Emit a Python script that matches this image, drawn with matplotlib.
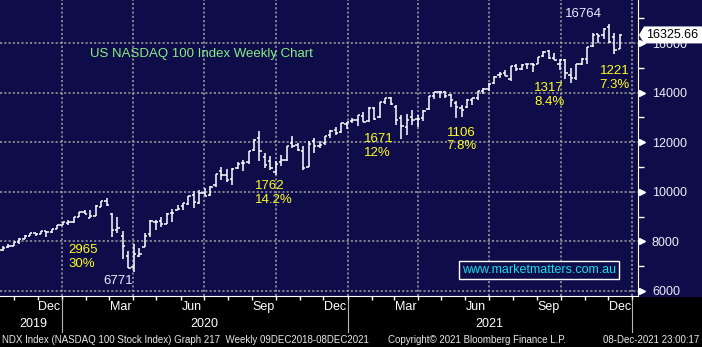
import matplotlib
matplotlib.use("Agg")
import matplotlib.pyplot as plt
import matplotlib.dates as mdates
from matplotlib.patches import Rectangle, Polygon
import pandas as pd

# NDX weekly bars (week ending Friday)
week_end = pd.date_range("2019-10-11", "2021-12-10", freq="7D")

opens = [7660, 7760, 7830, 7960, 8110, 8230, 8320, 8290, 8400, 8370, 8500, 8660,
         8760, 8770, 9000, 9170, 8950, 9030, 9400, 9620, 9120, 8470, 8220, 7400, 6950,
         7420, 7780, 8300, 8800, 8810, 8710, 9160, 9250, 9420, 9520, 9870, 9530, 9950,
         9880, 10260, 10830, 10660, 10520, 10950, 11180, 11200, 11680, 12150, 11400, 11230, 10800,
         11210, 11300, 11950, 11900, 11640, 11020, 12050, 11850, 11960, 12290, 12500, 12430, 12720, 12870,
         12900, 13070, 12850, 13380, 13000, 13640, 13800, 13410, 12970, 12600, 13000, 12930,
         12960, 13350, 13880, 14020, 14030, 13900, 13590, 13390, 13400, 13700, 13800, 14070, 14160,
         14380, 14700, 14790, 14550, 15080, 14960, 15160, 15150, 15160, 15460, 15690, 15400, 15160,
         15300, 14700, 14600, 15160, 15350, 15870, 16350, 16320, 16630, 16250, 15770]
highs = [7810, 7880, 7990, 8120, 8250, 8340, 8350, 8420, 8420, 8490, 8660, 8780,
         8870, 9000, 9180, 9260, 9280, 9460, 9630, 9736, 9150, 8970, 8400, 7600, 7880,
         7740, 8350, 8860, 8860, 9000, 9150, 9300, 9480, 9560, 9850, 10040, 10060, 10160,
         10230, 10730, 10990, 10930, 10950, 11200, 11300, 11650, 12110, 12439, 11570, 11450, 11240,
         11500, 11860, 12250, 11970, 11850, 12030, 12150, 12030, 12260, 12480, 12620, 12770, 12810, 12970,
         13100, 13200, 13400, 13420, 13620, 13790, 13807, 13520, 13100, 13130, 13300, 13100,
         13280, 13860, 14040, 14064, 14060, 13950, 13650, 13510, 13760, 13800, 14070, 14200, 14380,
         14650, 14840, 14910, 15080, 15140, 15140, 15170, 15180, 15450, 15680, 15701, 15580, 15370,
         15370, 14990, 15150, 15400, 15850, 16400, 16380, 16600, 16764, 16400, 16380]
lows = [7620, 7740, 7800, 7900, 8100, 8200, 8230, 8280, 8190, 8330, 8480, 8650,
        8680, 8760, 8980, 9090, 8940, 9010, 9380, 9440, 8180, 8330, 7290, 6920, 6771,
        7370, 7770, 8180, 8460, 8580, 8690, 8800, 9250, 9270, 9480, 9330, 9500, 9830,
        9840, 10180, 10470, 10400, 10290, 10930, 10850, 11130, 11650, 11230, 10970, 10880, 10677,
        11030, 11230, 11780, 11640, 10860, 11000, 11550, 11780, 11890, 12160, 12300, 12380, 12550, 12780,
        12650, 12800, 12820, 12880, 12960, 13560, 13480, 12700, 12136, 12300, 12690, 12610,
        12840, 13300, 13760, 13780, 13800, 13410, 12958, 13000, 13360, 13480, 13720, 13950, 14060,
        14330, 14580, 14650, 14460, 14860, 14900, 14950, 14820, 15140, 15420, 15370, 15300, 14900,
        14550, 14384, 14500, 15130, 15160, 15850, 16000, 16160, 16000, 15543, 15740]
closes = [7750, 7830, 7960, 8100, 8220, 8330, 8280, 8400, 8360, 8480, 8650, 8770,
          8790, 8990, 9170, 9120, 9030, 9410, 9620, 9450, 8460, 8530, 7810, 6930, 7500,
          7490, 8230, 8830, 8790, 8720, 9120, 9150, 9320, 9550, 9820, 9590, 9950, 9850,
          10210, 10720, 10660, 10460, 10910, 11140, 11160, 11640, 12100, 11630, 11080, 10940, 11120,
          11270, 11850, 11850, 11670, 10940, 11940, 11830, 11900, 12260, 12460, 12380, 12760, 12800, 12890,
          13100, 12800, 13370, 12930, 13610, 13790, 13540, 12910, 12670, 12880, 12880, 12930,
          13250, 13850, 14040, 14020, 13860, 13720, 13430, 13300, 13690, 13770, 14070, 14140, 14360,
          14640, 14770, 14670, 15070, 14960, 15130, 15160, 15110, 15440, 15650, 15380, 15330, 15320,
          14790, 14580, 15150, 15340, 15850, 16320, 16280, 16570, 16030, 15710, 16325.66]

last_price = 16325.66

# pullback labels (points / %), placed under each swing
swing_text = ["2965\n30%", "1762\n14.2%", "1671\n12%", "1106\n7.8%", "1317\n8.4%", "1221\n7.3%"]
swing_date = ["2020-01-09", "2020-09-04", "2021-01-22", "2021-05-08", "2021-08-28", "2021-11-20"]
swing_price = [7370, 9960, 11840, 12110, 13900, 14600]

y_ticks = [6000, 8000, 10000, 12000, 14000, 16000]
y_minor = [7000, 9000, 11000, 13000, 15000, 17000]
month_names = ["Dec", "Mar", "Jun", "Sep", "Dec", "Mar", "Jun", "Sep", "Dec"]
month_mid = ["2019-12-16", "2020-03-16", "2020-06-15", "2020-09-15", "2020-12-16",
             "2021-03-16", "2021-06-15", "2021-09-15", "2021-12-16"]
years = ["2019", "2020", "2021"]
year_pos = ["2019-11-25", "2020-07-01", "2021-07-01"]

navy = "#0f0c4a"
fig = plt.figure(figsize=(7.02, 3.47), dpi=100, facecolor="black")
ax = fig.add_axes([0, 51 / 347, 638 / 702, 296 / 347], facecolor=navy)
fig.patches.append(Rectangle((638 / 702, 51 / 347), 64 / 702, 296 / 347,
                             transform=fig.transFigure, color=navy, zorder=-1))

# Bloomberg places the weekly bar just after the week closes
x = mdates.date2num(week_end + pd.Timedelta(days=6))
ax.vlines(x, lows, highs, color="white", lw=1.1, zorder=3)
ax.hlines(opens, x - 3.0, x, color="white", lw=1.1, zorder=3)
ax.hlines(closes, x, x + 3.0, color="white", lw=1.1, zorder=3)

# grid on quarter starts, small ticks on month starts
quarters = pd.date_range("2020-01-01", "2022-01-01", freq="QS")
ax.set_xticks(mdates.date2num(quarters))
ax.set_xticks(mdates.date2num(pd.date_range("2019-11-01", "2022-01-01", freq="MS")), minor=True)
ax.xaxis.set_ticklabels([])
ax.tick_params(axis="x", which="both", direction="out", length=3, color="white", width=1)
ax.set_yticks(y_ticks)
ax.set_yticks(y_minor, minor=True)
ax.yaxis.tick_right()
ax.yaxis.set_ticklabels([str(v) for v in y_ticks])
ax.tick_params(axis="y", which="major", length=0, pad=10, labelsize=9, labelcolor="#eeeef6")
ax.tick_params(axis="y", which="minor", direction="out", length=4, color="white", width=1)
for lab in ax.get_yticklabels():
    lab.set_family("Liberation Sans")
ax.grid(True, which="major", color="#a0a0a0", linestyle=(0, (1.4, 1.4)), lw=1.1)
for s in ["top", "left"]:
    ax.spines[s].set_visible(False)
ax.spines["right"].set_color("white")
ax.spines["bottom"].set_color("white")

# limits last, set_xticks would widen them otherwise
jan1 = mdates.date2num(pd.Timestamp("2020-01-01"))
ax.set_xlim(jan1 - 79.5, jan1 + 738.2)
ax.set_ylim(5798, 17734)

ytrans = ax.get_yaxis_transform()
xtrans = ax.get_xaxis_transform()
ax.plot([1.007] * len(y_ticks), y_ticks, ls="none", marker=">", ms=5, color="white",
        transform=ytrans, clip_on=False)

# last price flag
fig.canvas.draw()
px, py = ax.transData.transform((ax.get_xlim()[1], last_price))
W, H = fig.bbox.width, fig.bbox.height
pts = [(px + 1, py), (px + 6, py - 8.5), (W, py - 8.5), (W, py + 8.5), (px + 6, py + 8.5)]
fig.patches.append(Polygon([(a / W, b / H) for a, b in pts], closed=True,
                           transform=fig.transFigure, fc="white", ec="none", zorder=5))
fig.text((px + 8) / W, py / H, f"{last_price:.2f}", color="black", fontsize=9,
         family="Liberation Sans", ha="left", va="center", zorder=6)

# text on the chart
ax.text(90 / 638, 1 - 54 / 296, "US NASDAQ 100 Index Weekly Chart", transform=ax.transAxes,
        color="#86ee86", fontsize=9.5, family="Liberation Sans", ha="left", va="center")
for t, d, p in zip(swing_text, swing_date, swing_price):
    ax.text(mdates.date2num(pd.Timestamp(d)), p, t, color="#ffff20", fontsize=9.5,
            family="Liberation Sans", ha="left", va="center", linespacing=1.2)
ax.text(mdates.date2num(pd.Timestamp("2021-10-30")), 17170, "16764", color="#e8ecff",
        fontsize=9.5, family="Liberation Sans", ha="center", va="center")
ax.text(mdates.date2num(pd.Timestamp("2020-04-01")), 6390, "6771", color="#e8ecff",
        fontsize=9.5, family="Liberation Sans", ha="right", va="center")

ax.text(0.7245, 1 - 270 / 296, "www.marketmatters.com.au", transform=ax.transAxes,
        color="#10e0f0", fontsize=9, family="Liberation Sans", ha="left", va="center",
        bbox=dict(boxstyle="square,pad=0.25", fc=navy, ec="white", lw=1))

# date axis labels
for m, d in zip(month_names, month_mid):
    ax.text(mdates.date2num(pd.Timestamp(d)), -11 / 296, m, transform=xtrans, color="white",
            fontsize=9, family="Liberation Sans", ha="center", va="center")
for yl, d in zip(years, year_pos):
    ax.text(mdates.date2num(pd.Timestamp(d)), -28 / 296, yl, transform=xtrans, color="white",
            fontsize=9, family="Liberation Sans", ha="center", va="center")
for yr in ["2020-01-01", "2021-01-01", "2022-01-01"]:
    xd = mdates.date2num(pd.Timestamp(yr))
    ax.plot([xd, xd], [-3 / 296, -36 / 296], transform=xtrans, color="#b8b8b8", lw=0.8,
            clip_on=False)

foot_y = 1 - 340 / 347
fig.text(2 / 702, foot_y, "NDX Index (NASDAQ 100 Stock Index) Graph 217  Weekly 09DEC2018-08DEC2021",
         color="#e8e8e8", fontsize=7, family="Liberation Sans", ha="left", va="center")
fig.text(388 / 702, foot_y, "Copyright\u00a9 2021 Bloomberg Finance L.P.",
         color="#e8e8e8", fontsize=7, family="Liberation Sans", ha="left", va="center")
fig.text(699 / 702, foot_y, "08-Dec-2021 23:00:17",
         color="#e8e8e8", fontsize=7, family="Liberation Sans", ha="right", va="center")

fig.savefig("out.png", dpi=100, facecolor="black")
